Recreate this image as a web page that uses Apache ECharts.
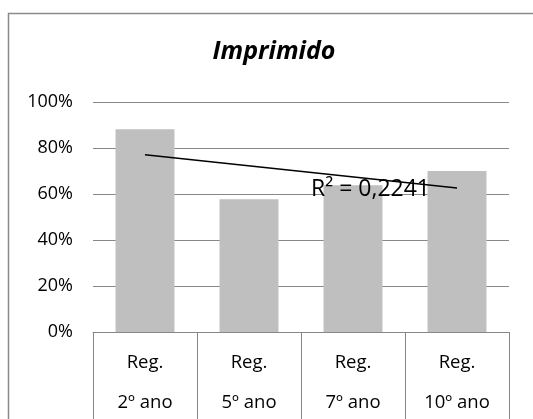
<!DOCTYPE html>
<html>
<head>
<meta charset="utf-8">
<script src="https://cdn.jsdelivr.net/npm/echarts@6/dist/echarts.min.js"></script>
<style>html,body{margin:0;padding:0;background:#fff;}#c{width:533px;height:419px;}</style>
</head>
<body>
<div id="c"></div>
<script>
const title = 'Imprimido';
const categories = ['Reg.\n2º ano', 'Reg.\n5º ano', 'Reg.\n7º ano', 'Reg.\n10º ano'];
const values = [88.1, 57.7, 63.8, 70.0];
const trendValues = [77.1, null, null, 62.6];
const rSquaredText = 'R² = 0,2241';
const yTicks = [0, 20, 40, 60, 80, 100];

const chart = echarts.init(document.getElementById('c'), null, {renderer: 'canvas'});
const font = '"Open Sans", sans-serif';
chart.setOption({
  animation: false,
  backgroundColor: '#fff',
  title: {
    text: title,
    left: 274,
    top: 39,
    textAlign: 'center',
    padding: 0,
    textStyle: {fontFamily: font, fontSize: 25, fontWeight: 'bold', fontStyle: 'italic', color: '#000'}
  },
  graphic: [
    {type: 'rect', shape: {x: 8.5, y: 13.5, width: 700, height: 600}, style: {fill: null, stroke: '#8a8a8a', lineWidth: 1.5}, silent: true, z: -1},
    {type: 'text', left: 311, top: 178, style: {text: rSquaredText, font: '23px "Open Sans", sans-serif', fill: '#000'}, z: 100}
  ],
  grid: {left: 93, right: 24, top: 102, bottom: 87, containLabel: false, outerBoundsMode: 'none'},
  xAxis: {
    type: 'category',
    data: categories,
    axisLine: {show: true, lineStyle: {color: '#888', width: 1}},
    axisTick: {show: true, length: 100, interval: 0, lineStyle: {color: '#888', width: 1}},
    axisLabel: {interval: 0, margin: 11, lineHeight: 40, fontFamily: font, fontSize: 18.5, color: '#000'}
  },
  yAxis: {
    type: 'value',
    min: yTicks[0],
    max: yTicks[yTicks.length - 1],
    interval: 20,
    axisLine: {show: false},
    axisTick: {show: false},
    splitLine: {show: true, lineStyle: {color: '#888', width: 1}},
    axisLabel: {margin: 20, formatter: '{value}%', fontFamily: font, fontSize: 18, color: '#000'}
  },
  series: [
    {
      type: 'bar',
      data: values,
      barWidth: '56.7%',
      itemStyle: {color: '#bfbfbf'}
    },
    {
      type: 'line',
      data: trendValues,
      connectNulls: true,
      symbol: 'none',
      lineStyle: {color: '#000', width: 1.5},
      z: 10
    }
  ]
});
</script>
</body>
</html>
